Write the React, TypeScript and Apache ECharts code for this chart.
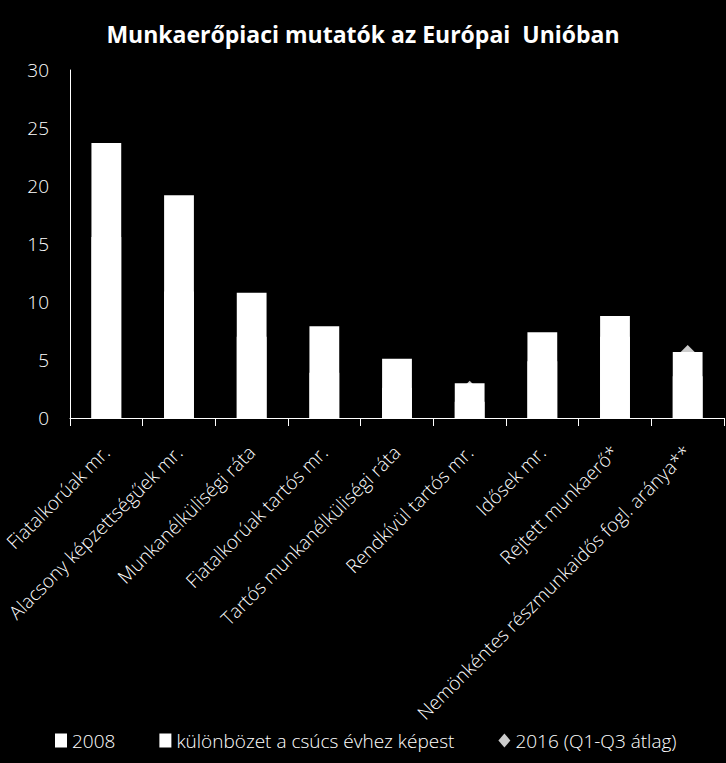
import React, { useEffect, useRef } from "react";
import * as echarts from "echarts";

const categories = [
  "Fiatalkorúak mr.",
  "Alacsony képzettségűek mr.",
  "Munkanélküliségi ráta",
  "Fiatalkorúak tartós mr.",
  "Tartós munkanélküliségi ráta",
  "Rendkívül tartós mr.",
  "Idősek mr.",
  "Rejtett munkaerő*",
  "Nemönkéntes részmunkaidős fogl. aránya**",
];
const values2008 = [15.6, 10.9, 7.0, 3.9, 2.6, 1.4, 4.9, 7.0, 3.6];
const diffToPeak = [8.1, 8.3, 3.8, 4.0, 2.5, 1.6, 2.5, 1.8, 2.1];
const values2016 = [18.9, 16.5, 8.6, 5.6, 4.1, 2.6, 6.6, 8.0, 5.7];
const yTicks = [0, 5, 10, 15, 20, 25, 30];

// top of the stacked bar = 2008 value + difference to the peak year
const peakTotals = values2008.map((v, i) => +(v + diffToPeak[i]).toFixed(1));

const FONT = "'Open Sans', 'Noto Sans', sans-serif";

export default function App() {
  const ref = useRef<HTMLDivElement>(null);
  useEffect(() => {
    document.body.style.margin = "0";
    document.body.style.background = "#000";
    const chart = echarts.init(ref.current!, null, { renderer: "svg" });
    chart.setOption({
      animation: false,
      backgroundColor: "#000",
      title: {
        text: "Munkaerőpiaci mutatók az Európai  Unióban",
        left: "center",
        top: 17,
        textStyle: { color: "#fff", fontSize: 23, fontWeight: "bold", fontFamily: FONT },
      },
      legend: {
        left: 50,
        top: 726,
        itemGap: 44,
        itemWidth: 12,
        itemHeight: 14,
        textStyle: { color: "#fff", fontSize: 19, fontWeight: 300, fontFamily: FONT },
        data: [
          { name: "2008", icon: "rect" },
          { name: "különbözet a csúcs évhez képest", icon: "rect" },
          { name: "2016 (Q1-Q3 átlag)", icon: "diamond" },
        ],
      },
      grid: { left: 70, right: 2, top: 70, bottom: 345, containLabel: false },
      xAxis: {
        type: "category",
        data: categories,
        axisLine: { lineStyle: { color: "#fff", width: 1 } },
        axisTick: { show: true, length: 8, lineStyle: { color: "#fff" } },
        axisLabel: {
          rotate: 45,
          interval: 0,
          margin: 31,
          color: "#fff",
          fontSize: 19,
          fontWeight: 300,
          fontFamily: FONT,
        },
      },
      yAxis: {
        type: "value",
        min: yTicks[0],
        max: yTicks[yTicks.length - 1],
        interval: 5,
        axisLine: { show: true, lineStyle: { color: "#fff", width: 1 } },
        axisTick: { show: false },
        splitLine: { show: false },
        axisLabel: {
          margin: 21,
          color: "#fff",
          fontSize: 19,
          fontWeight: 300,
          fontFamily: FONT,
        },
      },
      series: [
        {
          name: "különbözet a csúcs évhez képest",
          type: "bar",
          data: peakTotals,
          barWidth: "41%",
          barGap: "-100%",
          itemStyle: { color: "#fff" },
          z: 2,
        },
        {
          name: "2008",
          type: "bar",
          data: values2008,
          barWidth: "41%",
          barGap: "-100%",
          itemStyle: { color: "#fff" },
          z: 3,
        },
        {
          name: "2016 (Q1-Q3 átlag)",
          type: "scatter",
          data: values2016,
          symbol: "diamond",
          symbolSize: 14,
          itemStyle: { color: "#fff" },
          z: 5,
        },
      ],
    });
    return () => chart.dispose();
  }, []);
  return <div ref={ref} style={{ width: 726, height: 763 }} />;
}
